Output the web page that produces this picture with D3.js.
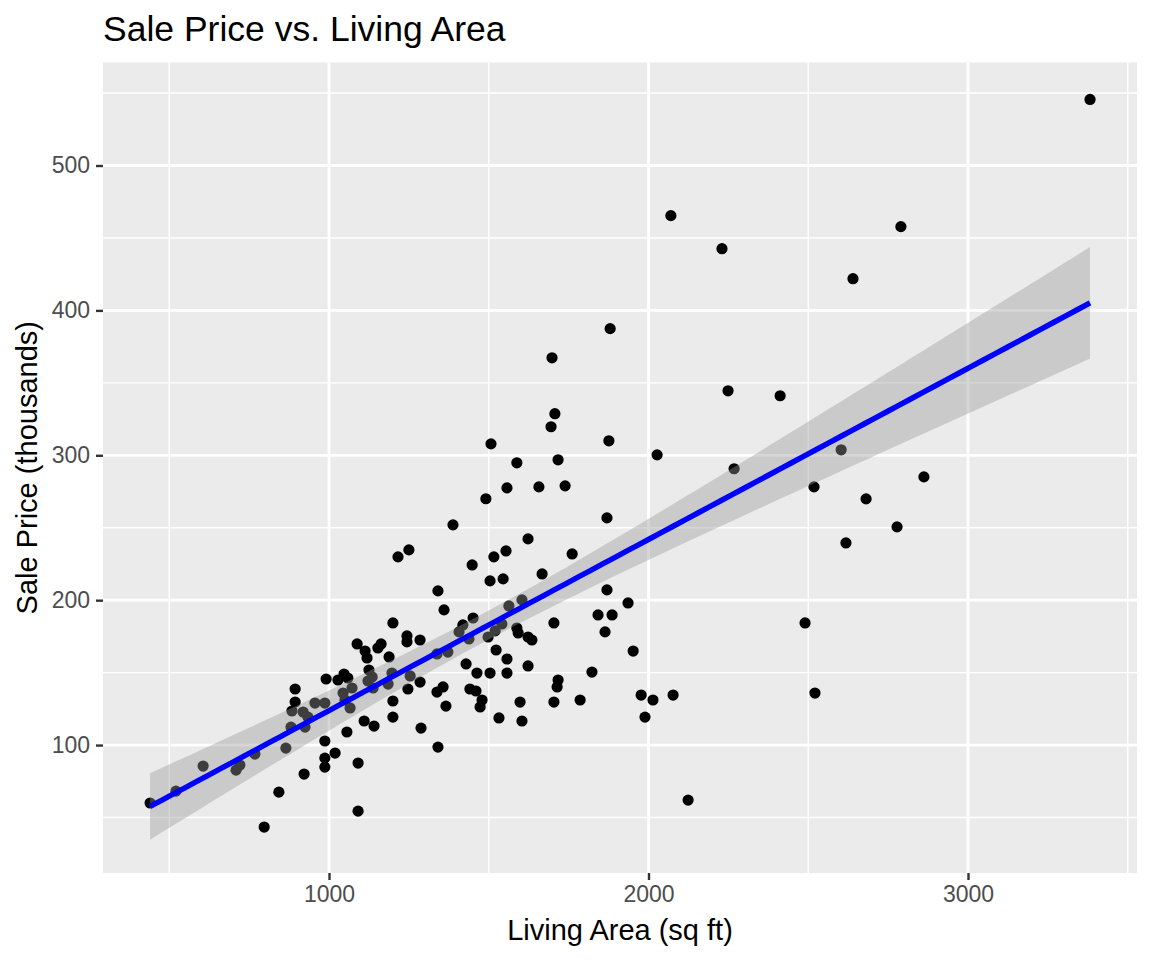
<!DOCTYPE html>
<head>
    <meta charset="utf-8">
    <script src="https://d3js.org/d3.v7.min.js"></script>
    <style>
      body { margin: 0; background: #fff; }
      text { font-family: "Liberation Sans", Arial, sans-serif; }
      .ticklabel { font-size: 23px; fill: #4d4d4d; }
      .axistitle { font-size: 29px; fill: #000; }
      .charttitle { font-size: 35.5px; fill: #000; }
    </style>
<body>
    <script>
        // living area (sq ft) and sale price (thousands)
        var livingArea = [440, 521, 606, 709, 721, 768, 797, 843, 865, 922,
          881, 925, 884, 919, 894, 894, 956, 987, 991, 987,
          987, 987, 934, 1028, 1047, 1059, 1044, 1072, 1050, 1066,
          1056, 1019, 1091, 1091, 1110, 1141, 1200, 1200, 1125, 1135,
          1122, 1138, 1088, 1113, 1119, 1153, 1163, 1188, 1197, 1185,
          1200, 1244, 1244, 1285, 1254, 1285, 1247, 1288, 1216, 1250,
          1341, 1360, 1419, 1451, 1407, 1438, 1498, 1520, 1541, 1588,
          1592, 1623, 1635, 1704, 1338, 1372, 1523, 1557, 1429, 1463,
          1504, 1557, 1623, 1338, 1357, 1441, 1460, 1479, 1473, 1366,
          1717, 1714, 1704, 1786, 1598, 1532, 1604, 1341, 1504, 1545,
          1667, 1604, 1563, 1448, 1516, 1554, 1623, 1761, 1388, 1491,
          1557, 1657, 1739, 1588, 1717, 1507, 1695, 1707, 1698, 1880,
          1876, 1870, 1870, 1936, 1842, 1886, 1864, 1952, 1823, 1977,
          2014, 2077, 1989, 2124, 2027, 3382, 2070, 2230, 2790, 2640,
          2249, 2412, 2268, 2603, 2862, 2518, 2681, 2778, 2618, 2490,
          2521]
        var salePrice = [60, 68.2, 85.5, 82.7, 86.2, 93.8, 43.4, 67.5, 97.9, 80,
          112.4, 112.4, 123.5, 122.8, 129.7, 138.7, 129, 129, 145.6, 102.8,
          91, 84.8, 119.3, 144.9, 149, 146.3, 135.9, 139.4, 131.1, 125.6,
          109, 94.5, 87.6, 54.4, 116.6, 113.1, 119.3, 130.4, 151.8, 147,
          144.2, 139.4, 169.8, 164.9, 160.1, 167, 169.8, 160.8, 149.7, 142.1,
          184.3, 175.3, 171.2, 172.5, 147.7, 143.5, 138.7, 111.7, 229.9, 234.7,
          206.4, 193.3, 182.9, 187.7, 178.1, 173.2, 174.6, 178.8, 183.6, 180.8,
          177.4, 174.6, 172.5, 184.3, 162.9, 164.2, 165.6, 159.4, 156, 149.7,
          149.7, 149.7, 154.6, 136.6, 140.1, 138.7, 137.3, 131.1, 126.3, 126.9,
          144.9, 140.1, 129.7, 131.1, 129.7, 118.7, 116.6, 98.6, 213.3, 214.7,
          218.1, 200.2, 196, 224.3, 229.9, 234, 242.3, 231.9, 252, 270,
          277.5, 278.2, 278.9, 294.8, 296.9, 307.9, 319.7, 328.7, 367.3, 387.4,
          310, 256.8, 207.1, 198.1, 189.8, 189.8, 178.1, 164.9, 150.4, 134.5,
          131.1, 134.5, 119.3, 62, 300.3, 545.6, 465.4, 442.6, 457.8, 421.9,
          344.5, 341.1, 290.7, 303.8, 285.1, 278.2, 269.9, 250.6, 239.5, 184.3,
          135.9]

        var xTicks = [1000, 2000, 3000]
        var xMinor = [500, 1500, 2500, 3500]
        var yTicks = [100, 200, 300, 400, 500]
        var yMinor = [50, 150, 250, 350, 450, 550]

        var svg_w = 1152, svg_h = 960
        var panel = {left: 103, right: 1137, top: 62.5, bottom: 873}

        var svg = d3.select("body").append("svg")
          .attr("width", svg_w)
          .attr("height", svg_h)

        var scaleX = d3.scaleLinear().domain([292.6, 3529]).range([panel.left, panel.right])
        var scaleY = d3.scaleLinear().domain([11.7, 571.1]).range([panel.bottom, panel.top])

        // linear fit with 95% band, like geom_smooth(method = "lm")
        var n = livingArea.length
        var xbar = d3.mean(livingArea), ybar = d3.mean(salePrice)
        var sxx = d3.sum(livingArea, function(x){ return (x-xbar)*(x-xbar) })
        var sxy = d3.sum(livingArea, function(x, i){ return (x-xbar)*(salePrice[i]-ybar) })
        var slope = sxy/sxx
        var intercept = ybar - slope*xbar
        var sse = d3.sum(livingArea, function(x, i){
          var r = salePrice[i] - (intercept + slope*x); return r*r })
        var s = Math.sqrt(sse/(n-2))
        var tCrit = 1.976
        var xExt = d3.extent(livingArea)
        var fit = d3.range(80).map(function(i){
          var x = xExt[0] + i*(xExt[1]-xExt[0])/79
          var yhat = intercept + slope*x
          var se = s*Math.sqrt(1/n + (x-xbar)*(x-xbar)/sxx)
          return {x: x, y: yhat, lo: yhat - tCrit*se, hi: yhat + tCrit*se}
        })

        // panel
        svg.append("rect")
          .attr("x", panel.left).attr("y", panel.top)
          .attr("width", panel.right-panel.left).attr("height", panel.bottom-panel.top)
          .attr("fill", "#ebebeb")

        var grid = svg.append("g")
        grid.selectAll(".ymin").data(yMinor).enter().append("line")
          .attr("x1", panel.left).attr("x2", panel.right)
          .attr("y1", scaleY).attr("y2", scaleY)
          .attr("stroke", "#fff").attr("stroke-width", 1.4)
        grid.selectAll(".xmin").data(xMinor).enter().append("line")
          .attr("y1", panel.top).attr("y2", panel.bottom)
          .attr("x1", scaleX).attr("x2", scaleX)
          .attr("stroke", "#fff").attr("stroke-width", 1.4)
        grid.selectAll(".ymaj").data(yTicks).enter().append("line")
          .attr("x1", panel.left).attr("x2", panel.right)
          .attr("y1", scaleY).attr("y2", scaleY)
          .attr("stroke", "#fff").attr("stroke-width", 2.8)
        grid.selectAll(".xmaj").data(xTicks).enter().append("line")
          .attr("y1", panel.top).attr("y2", panel.bottom)
          .attr("x1", scaleX).attr("x2", scaleX)
          .attr("stroke", "#fff").attr("stroke-width", 2.8)

        // points
        svg.append("g").selectAll("circle")
          .data(livingArea)
          .enter().append("circle")
          .attr("cx", function(d){ return scaleX(d) })
          .attr("cy", function(d, i){ return scaleY(salePrice[i]) })
          .attr("r", 5.6)
          .attr("fill", "#000")

        // band and line
        svg.append("path")
          .datum(fit)
          .attr("d", d3.area()
            .x(function(d){ return scaleX(d.x) })
            .y0(function(d){ return scaleY(d.lo) })
            .y1(function(d){ return scaleY(d.hi) }))
          .attr("fill", "#999999")
          .attr("fill-opacity", 0.4)
        svg.append("path")
          .datum(fit)
          .attr("d", d3.line()
            .x(function(d){ return scaleX(d.x) })
            .y(function(d){ return scaleY(d.y) }))
          .attr("fill", "none")
          .attr("stroke", "#0000ff")
          .attr("stroke-width", 5.5)

        // axes
        var xAxis = svg.append("g")
          .attr("transform", "translate(0," + panel.bottom + ")")
          .call(d3.axisBottom(scaleX).tickValues(xTicks).tickSize(7).tickPadding(6).tickFormat(d3.format("d")))
        var yAxis = svg.append("g")
          .attr("transform", "translate(" + panel.left + ",0)")
          .call(d3.axisLeft(scaleY).tickValues(yTicks).tickSize(7).tickPadding(6).tickFormat(d3.format("d")))
        ;[xAxis, yAxis].forEach(function(ax){
          ax.select(".domain").remove()
          ax.selectAll(".tick line").attr("stroke", "#333333").attr("stroke-width", 2.4)
          ax.selectAll(".tick text").attr("class", "ticklabel").attr("font-family", null).attr("font-size", null).attr("fill", null)
        })

        // titles
        svg.append("text").attr("class", "charttitle")
          .attr("x", panel.left).attr("y", 41)
          .text("Sale Price vs. Living Area")
        svg.append("text").attr("class", "axistitle")
          .attr("x", (panel.left+panel.right)/2).attr("y", 940)
          .attr("text-anchor", "middle")
          .text("Living Area (sq ft)")
        svg.append("text").attr("class", "axistitle")
          .attr("transform", "translate(37," + (panel.top+panel.bottom)/2 + ") rotate(-90)")
          .attr("text-anchor", "middle")
          .text("Sale Price (thousands)")
    </script>
</body>
